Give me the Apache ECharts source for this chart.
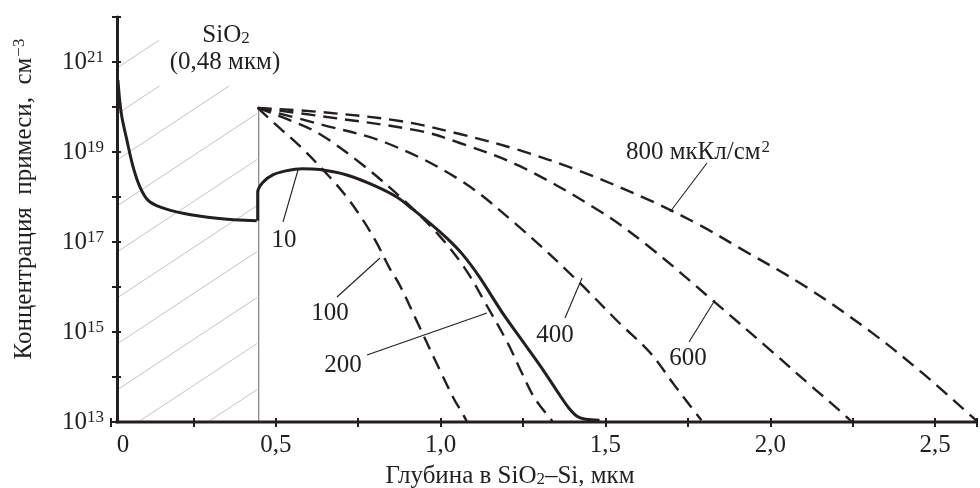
<!DOCTYPE html>
<html><head><meta charset="utf-8">
<script src="https://cdn.jsdelivr.net/npm/echarts@6/dist/echarts.min.js"></script>
<style>html,body{margin:0;padding:0;background:#fff}#c{width:980px;height:488px}</style>
</head><body><div id="c"></div>
<script>
// ---- data (depth in µm, concentration as log10 of cm^-3) ----
const xLabelValues = [0, 0.5, 1.0, 1.5, 2.0, 2.5];
const yLabelExponents = [13, 15, 17, 19, 21];
const oxideThickness = 0.448;       // SiO2 / Si boundary, µm
const oxideTopExp = 20;             // top of boundary line

// dose 10 µC/cm^2 (solid): oxide part, then silicon part after the step at the interface
const depthD10ox = [0.021,0.027,0.033,0.048,0.067,0.088,0.112,0.148,0.218,0.321,0.442];
const logD10ox   = [20.60,20.10,19.78,19.27,18.67,18.22,17.93,17.78,17.64,17.53,17.47];
const depthD10si = [0.445,0.445,0.461,0.491,0.530,0.580,0.633,0.715,0.794,0.867,0.915,0.967,1.018,1.067,1.118,1.188,1.261,1.315,1.361,1.390,1.415,1.440,1.482];
const logD10si   = [17.47,18.11,18.33,18.49,18.58,18.63,18.61,18.49,18.27,18.00,17.73,17.42,17.09,16.72,16.22,15.42,14.67,14.11,13.60,13.30,13.12,13.06,13.04];

const depthD100 = [0.445,0.512,0.573,0.664,0.715,0.764,0.806,0.845,0.876,0.936,0.997,1.042,1.064,1.079];
const logD100   = [19.98,19.53,19.13,18.44,18.00,17.49,16.98,16.42,16.04,15.11,14.16,13.49,13.22,13.02];

const depthD200 = [0.445,0.542,0.633,0.764,0.897,0.997,1.073,1.139,1.203,1.245,1.285,1.339];
const logD200   = [19.98,19.71,19.40,18.71,17.87,17.13,16.42,15.60,14.76,14.11,13.53,13.02];

const depthD400 = [0.445,0.633,0.836,1.058,1.239,1.412,1.542,1.633,1.709,1.755,1.791];
const logD400   = [19.98,19.62,19.20,18.38,17.33,16.16,15.20,14.56,13.82,13.38,13.04];

const depthD600 = [0.445,0.633,0.936,1.058,1.239,1.482,1.633,1.824,2.006,2.127,2.194,2.245];
const logD600   = [19.98,19.80,19.47,19.20,18.69,17.69,16.89,15.71,14.56,13.78,13.36,13.02];

const depthD800 = [0.445,0.633,0.876,1.058,1.239,1.421,1.633,1.785,1.906,2.109,2.309,2.461,2.627];
const logD800   = [19.98,19.89,19.69,19.40,19.04,18.58,17.93,17.38,16.87,16.00,14.98,14.09,13.02];

// ---- layout / style ----
const FONT = "'Liberation Serif','Times New Roman',serif";
const INK = '#231f20';
const FS = 25, FSS = 17;
const GL = 111, GR = 2, GT = 17, GB = 66, W = 980, H = 488;
const YAX = 117; // pixel x of the drawn y-axis line
const XMAX = 2.627;

function curve(name, xs, ys, dashed, smooth) {
  return {
    type: 'line', name, data: xs.map((x, i) => [x, ys[i]]),
    symbol: 'none', showSymbol: false, smooth: smooth,
    lineStyle: { color: INK, width: dashed ? 2.4 : 3, type: dashed ? [14, 8] : 'solid', cap: 'butt', join: 'round' },
    z: 3, silent: true, animation: false, clip: false
  };
}

const chart = echarts.init(document.getElementById('c'));

// hatch lines (decoration in the oxide zone)
const hatch = [];
const slope = 0.66;
for (let k = -7; k <= 5; k++) {
  const c = 298 + 46 * k;
  const yf = x => c - slope * (x - YAX);
  const xb = YAX + (c - 421) / slope, xt = YAX + (c - 30) / slope;
  const x0 = Math.max(119, xb), x1 = Math.min(257, xt);
  if (x0 < x1) hatch.push({ type: 'line', silent: true, z: 1,
    shape: { x1: x0, y1: yf(x0), x2: x1, y2: yf(x1) },
    style: { stroke: '#c4c4c4', lineWidth: 1 } });
}

const txt = (x, y, text, extra) => Object.assign({
  type: 'text', x, y, z: 20, silent: true,
  style: Object.assign({ text, fontFamily: FONT, fontSize: FS, fill: INK, align: 'center', verticalAlign: 'middle' }, extra || {})
});
const ptr = (x1, y1, x2, y2) => ({ type: 'line', z: 20, silent: true, shape: { x1, y1, x2, y2 }, style: { stroke: INK, lineWidth: 1.1 } });

const richSup = {
  sup: { fontFamily: FONT, fontSize: FSS, fill: INK, color: INK, verticalAlign: 'top', padding: [0, 0, 0, 1] },
  sub: { fontFamily: FONT, fontSize: FSS, fill: INK, color: INK, verticalAlign: 'bottom', padding: [6, 0, 0, 0] },
  n: { fontFamily: FONT, fontSize: FS, fill: INK, color: INK }
};

const graphics = [
  ...hatch,
  { type: 'rect', z: 10, silent: true, shape: { x: 159, y: 16, width: 132, height: 70 }, style: { fill: '#fff' } },
  txt(226, 35, '{n|SiO}{sub|2}', { rich: richSup }),
  txt(225, 62, '(0,48 мкм)'),
  txt(284, 240, '10'), ptr(283, 222, 298, 170),
  txt(330, 313, '100'), ptr(337, 297, 380, 258),
  txt(343, 365, '200'), ptr(367, 355, 487, 313),
  txt(555, 335, '400'), ptr(565, 318, 582, 278),
  txt(688, 358, '600'), ptr(689, 342, 715, 300),
  txt(698, 152, '{n|800 мкКл/см}{sup|2}', { rich: richSup }), ptr(707, 163, 670, 212),
  // axis titles
  txt(510, 476, '{n|Глубина в SiO}{sub|2}{n|–Si, мкм}', { rich: richSup }),
  { type: 'text', x: 24, y: 199, rotation: Math.PI / 2, z: 20, silent: true,
    style: { text: '{n|Концентрация  примеси,  см}{sup|−3}', rich: richSup, fontFamily: FONT, fontSize: FS, fill: INK, align: 'center', verticalAlign: 'middle' } },
  // x-axis line starting at the drawn y-axis
  { type: 'line', z: 15, silent: true, shape: { x1: YAX - 1.5, y1: H - GB, x2: W - GR, y2: H - GB }, style: { stroke: INK, lineWidth: 3 } }
];

const xLabelFmt = v => {
  if (!xLabelValues.some(t => Math.abs(t - v) < 1e-6)) return '';
  if (Math.abs(v) < 1e-6) return '{z|0}';
  return v.toFixed(1).replace('.', ',');
};
const yLabelFmt = v => yLabelExponents.includes(Math.round(v)) && Math.abs(v - Math.round(v)) < 1e-6 ? '{n|10}{sup|' + Math.round(v) + '}' : '';

const xBase = { type: 'value', min: 0, max: XMAX, interval: 0.25, position: 'bottom', splitLine: { show: false } };
const yBase = { type: 'value', min: 13, max: 22, interval: 1, position: 'left', offset: GL - YAX, splitLine: { show: false } };

chart.setOption({
  animation: false,
  backgroundColor: '#fff',
  grid: { left: GL, right: GR, top: GT, bottom: GB },
  xAxis: [
    Object.assign({}, xBase, {
      axisLine: { show: false, onZero: false },
      axisTick: { show: true, inside: false, length: 5, lineStyle: { color: INK, width: 2 } },
      axisLabel: { show: true, margin: 11, formatter: xLabelFmt, fontFamily: FONT, fontSize: FS, color: INK, showMaxLabel: true,
        rich: { z: { fontFamily: FONT, fontSize: FS, color: INK, padding: [0, 0, 0, 24] } } }
    }),
    Object.assign({}, xBase, {
      axisLine: { show: false, onZero: false },
      axisTick: { show: true, inside: true, length: 4, lineStyle: { color: INK, width: 2 } },
      axisLabel: { show: false }
    })
  ],
  yAxis: [
    Object.assign({}, yBase, {
      axisLine: { show: true, onZero: false, lineStyle: { color: INK, width: 3 } },
      axisTick: { show: true, inside: false, length: 5, lineStyle: { color: INK, width: 2 } },
      axisLabel: { show: true, margin: 13, formatter: yLabelFmt, color: INK, fontFamily: FONT, fontSize: FS,
        rich: { n: { fontFamily: FONT, fontSize: FS, color: INK }, sup: { fontFamily: FONT, fontSize: FSS, color: INK, verticalAlign: 'top' } } }
    }),
    Object.assign({}, yBase, {
      axisLine: { show: false, onZero: false },
      axisTick: { show: true, inside: true, length: 4, lineStyle: { color: INK, width: 2 } },
      axisLabel: { show: false }
    })
  ],
  series: [
    {
      type: 'line', name: 'boundary', data: [[oxideThickness, 13], [oxideThickness, oxideTopExp]],
      symbol: 'none', lineStyle: { color: '#8a8a8a', width: 1.3 }, z: 2, silent: true, animation: false
    },
    curve('10 (SiO2)', depthD10ox, logD10ox, false, 0.35),
    curve('10', depthD10si, logD10si, false, 0.3),
    curve('100', depthD100, logD100, true, 0.35),
    curve('200', depthD200, logD200, true, 0.35),
    curve('400', depthD400, logD400, true, 0.35),
    curve('600', depthD600, logD600, true, 0.35),
    curve('800', depthD800, logD800, true, 0.35)
  ],
  graphic: graphics
});
</script></body></html>
